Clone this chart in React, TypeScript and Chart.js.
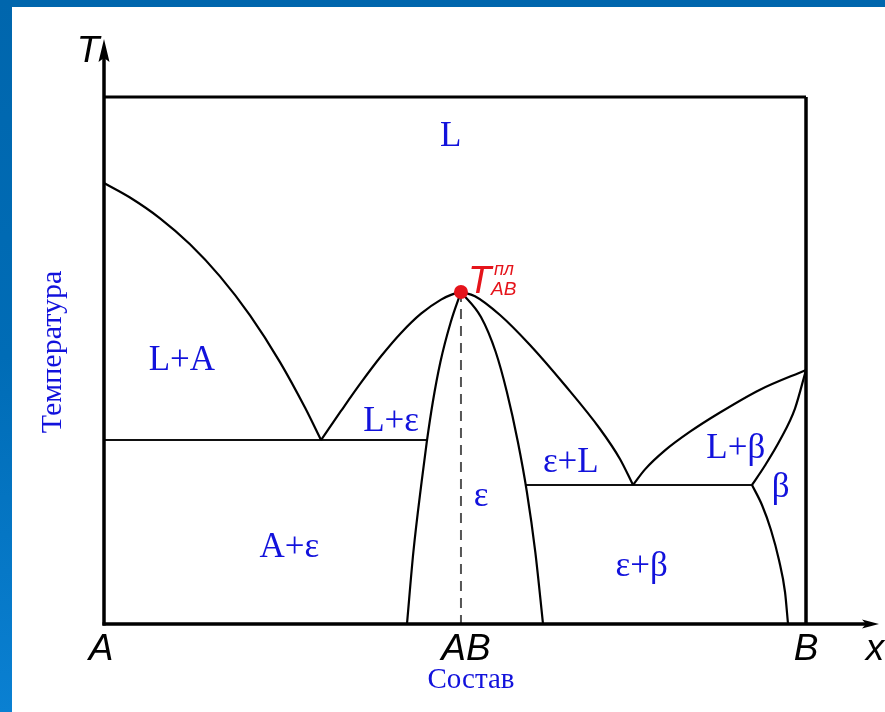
import React, { useEffect, useRef } from "react";
import { Chart, registerables } from "chart.js";

Chart.register(...registerables);

type Pt = [number, number];

// Composition in % B (0 = pure A, 100 = pure B) against relative temperature (% of plotted range)
const liquidusA: Pt[] = [
  [0, 83.68], [3.7, 80.93], [7.98, 76.98], [12.25, 72.05], [16.52, 65.96],
  [20.8, 58.56], [25.07, 49.7], [28.63, 41.06], [30.91, 34.91],
];
const liquidusEpsLeft: Pt[] = [
  [30.91, 34.91], [33.76, 40.42], [36.61, 45.79], [39.46, 50.8], [42.31, 55.24],
  [45.16, 58.9], [48.01, 61.56], [49.43, 62.45], [50.85, 63.0],
];
const solidusEpsLeft: Pt[] = [
  [43.16, 0], [44.07, 13.66], [45.24, 26.94], [45.98, 34.54], [46.84, 42.13],
  [47.92, 49.72], [49.4, 57.31], [50.85, 63.0],
];
const solidusEpsRight: Pt[] = [
  [50.85, 63.0], [53.7, 58.25], [55.8, 51.61], [57.39, 44.02], [58.96, 34.54],
  [60.24, 25.05], [61.44, 13.66], [62.54, 0],
];
const liquidusEpsRight: Pt[] = [
  [50.85, 63.0], [52.85, 62.2], [56.41, 58.63], [60.68, 52.94], [65.67, 45.29],
  [70.66, 37.0], [73.5, 31.31], [75.36, 26.38],
];
const liquidusB: Pt[] = [
  [75.36, 26.38], [77.07, 29.34], [79.91, 32.94], [83.48, 36.49], [87.75, 40.13],
  [93.45, 44.46], [100, 48.2],
];
const solidusBeta: Pt[] = [
  [92.31, 26.38], [94.16, 30.08], [96.3, 34.91], [98.43, 40.89], [100, 48.2],
];
const solvusBeta: Pt[] = [
  [92.31, 26.38], [93.73, 22.58], [95.01, 17.84], [96.15, 12.14], [97.01, 6.07], [97.44, 0],
];
const eutecticLineA: Pt[] = [[0, 34.91], [46.0, 34.91]];
const eutecticLineB: Pt[] = [[60.06, 26.38], [92.31, 26.38]];
const boxTop: Pt[] = [[0, 100], [100, 100]];
const boxRight: Pt[] = [[100, 0], [100, 100]];
const meltingPointAB: Pt[] = [[50.85, 63.0]];
const meltingDrop: Pt[] = [[50.85, 63.0], [50.85, 0]];

// Phase-field names and where they sit (composition, temperature)
const regionNames = ["L", "L+A", "L+ε", "ε", "ε+L", "L+β", "β", "A+ε", "ε+β"];
const regionX = [49.4, 11.1, 40.9, 53.7, 66.5, 90.0, 96.4, 26.4, 76.6];
const regionY = [92.4, 50.0, 38.3, 24.1, 30.6, 33.2, 25.8, 14.4, 10.8];

// Composition axis labels
const compTicks = ["A", "AB", "B"];
const compTickValues = [0, 50.85, 100];
const compTickNudge = [-3, 5, 0];

const BLUE = "#1212dc";
const RED = "#e5141b";
const SANS_IT = "italic 37px 'Liberation Sans', Arial, sans-serif";
const SERIF = "'Liberation Serif', 'Times New Roman', serif";

const toXY = (pts: Pt[]) => pts.map(([x, y]) => ({ x, y }));

const curve = (pts: Pt[], width = 2.2) => ({
  data: toXY(pts),
  showLine: true,
  borderColor: "#000",
  borderWidth: width,
  pointRadius: 0,
  cubicInterpolationMode: "monotone" as const,
  clip: false as const,
  order: 1,
});

const straight = (pts: Pt[], width: number, color: string) => ({
  data: toXY(pts),
  showLine: true,
  borderColor: color,
  borderWidth: width,
  pointRadius: 0,
  tension: 0,
  clip: false as const,
  order: 1,
});

const diagramPlugin = {
  id: "diagramDecor",
  afterDatasetsDraw(chart: Chart) {
    const ctx = chart.ctx;
    const { left, right, top, bottom } = chart.chartArea;
    const xs = chart.scales.x;
    const ys = chart.scales.y;
    ctx.save();

    // axes with arrowheads
    ctx.strokeStyle = "#000";
    ctx.fillStyle = "#000";
    ctx.lineWidth = 3.5;
    ctx.beginPath();
    ctx.moveTo(left, bottom + 1.5);
    ctx.lineTo(left, top - 40);
    ctx.stroke();
    ctx.beginPath();
    ctx.moveTo(left, top - 58);
    ctx.lineTo(left - 5.5, top - 35);
    ctx.lineTo(left, top - 39);
    ctx.lineTo(left + 5.5, top - 35);
    ctx.closePath();
    ctx.fill();

    ctx.beginPath();
    ctx.moveTo(left - 1.5, bottom);
    ctx.lineTo(right + 62, bottom);
    ctx.stroke();
    ctx.beginPath();
    ctx.moveTo(right + 73, bottom);
    ctx.lineTo(right + 56, bottom - 4.5);
    ctx.lineTo(right + 60, bottom);
    ctx.lineTo(right + 56, bottom + 4.5);
    ctx.closePath();
    ctx.fill();

    // axis letters
    ctx.font = SANS_IT;
    ctx.textAlign = "center";
    ctx.textBaseline = "alphabetic";
    ctx.fillText("T", left - 16, top - 35);
    compTicks.forEach((t, i) => {
      ctx.fillText(t, xs.getPixelForValue(compTickValues[i]) + compTickNudge[i], bottom + 36);
    });
    ctx.fillText("x", right + 69, bottom + 36);

    // axis titles
    ctx.fillStyle = BLUE;
    ctx.font = `29px ${SERIF}`;
    ctx.fillText("Состав", xs.getPixelForValue(50.85) + 10, bottom + 64);
    ctx.save();
    ctx.translate(left - 43, top + 255);
    ctx.rotate(-Math.PI / 2);
    ctx.font = `30px ${SERIF}`;
    ctx.fillText("Температура", 0, 0);
    ctx.restore();

    // phase fields
    ctx.font = `35px ${SERIF}`;
    ctx.textBaseline = "middle";
    regionNames.forEach((name, i) => {
      ctx.fillText(name, xs.getPixelForValue(regionX[i]), ys.getPixelForValue(regionY[i]));
    });

    // congruent melting point label
    const px = xs.getPixelForValue(meltingPointAB[0][0]);
    const py = ys.getPixelForValue(meltingPointAB[0][1]);
    ctx.fillStyle = RED;
    ctx.textAlign = "left";
    ctx.textBaseline = "alphabetic";
    ctx.font = "italic 38px 'Liberation Sans', Arial, sans-serif";
    ctx.fillText("T", px + 7, py + 1);
    ctx.font = "italic 18px 'Liberation Sans', Arial, sans-serif";
    ctx.fillText("пл", px + 33, py - 17);
    ctx.font = "italic 19px 'Liberation Sans', Arial, sans-serif";
    ctx.fillText("AB", px + 30, py + 3);

    ctx.restore();
  },
};

export default function App() {
  const ref = useRef<HTMLCanvasElement>(null);

  useEffect(() => {
    const canvas = ref.current;
    if (!canvas) return;
    const chart = new Chart(canvas, {
      type: "scatter",
      data: {
        datasets: [
          {
            data: toXY(meltingPointAB),
            pointRadius: 7,
            pointBackgroundColor: RED,
            pointBorderWidth: 0,
            clip: false,
            order: 0,
          },
          curve(liquidusA),
          curve(liquidusEpsLeft),
          curve(solidusEpsLeft),
          curve(solidusEpsRight),
          curve(liquidusEpsRight),
          curve(liquidusB),
          curve(solidusBeta),
          curve(solvusBeta),
          straight(eutecticLineA, 2, "#111"),
          straight(eutecticLineB, 2, "#111"),
          straight(boxTop, 3, "#000"),
          straight(boxRight, 3.5, "#000"),
          {
            data: toXY(meltingDrop),
            showLine: true,
            borderColor: "#555",
            borderWidth: 2,
            borderDash: [10, 7],
            pointRadius: 0,
            clip: false,
            order: 2,
          },
        ],
      },
      options: {
        responsive: false,
        animation: false,
        devicePixelRatio: 1,
        events: [],
        layout: { padding: { left: 92, right: 79, top: 90, bottom: 88 } },
        plugins: {
          legend: { display: false },
          tooltip: { enabled: false },
          title: { display: false },
        },
        scales: {
          x: { type: "linear", min: 0, max: 100, display: false },
          y: { type: "linear", min: 0, max: 100, display: false },
        },
      },
      plugins: [diagramPlugin],
    });
    return () => chart.destroy();
  }, []);

  return (
    <div
      style={{
        position: "fixed",
        left: 0,
        top: 0,
        width: 885,
        height: 712,
        background: "linear-gradient(180deg, #0066ad 0%, #006cb6 50%, #0a80d2 100%)",
        overflow: "hidden",
      }}
    >
      <div style={{ position: "absolute", left: 12, top: 7, width: 873, height: 705, background: "#fff" }}>
        <canvas ref={ref} width={873} height={705} style={{ display: "block" }} />
      </div>
    </div>
  );
}
